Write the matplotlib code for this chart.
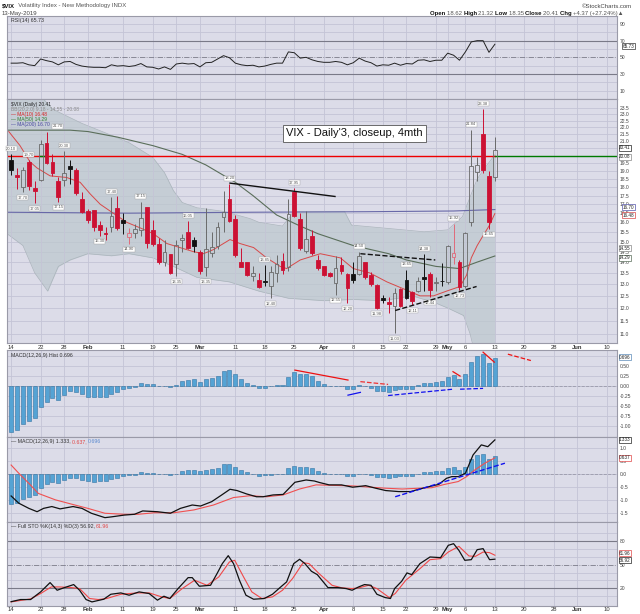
import numpy as np
import matplotlib
matplotlib.use("Agg")
import matplotlib.pyplot as plt
from matplotlib.patches import Rectangle
from matplotlib.ticker import FixedLocator, NullLocator, FixedFormatter

plt.rcParams['font.family'] = ['Liberation Sans', 'DejaVu Sans']

# ---- data: daily VIX, 14 Jan .. 13 May 2019 (83 sessions) ----
prev_close = 18.19
opens = [19.75, 18.75, 18.00, 19.60, 17.95, 18.45, 20.90, 19.60, 18.40, 18.45,
         19.35, 19.10, 17.30, 16.60, 16.70, 15.85, 15.45, 15.75, 16.80, 16.10,
         15.25, 15.45, 15.60, 16.85, 15.60, 14.90, 14.00, 14.40, 13.90, 15.10,
         15.50, 15.10, 14.50, 13.75, 14.45, 14.80, 16.30, 17.30, 16.20, 14.00,
         14.00, 13.35, 13.20, 13.15, 12.90, 13.50, 14.05, 13.75, 17.70, 16.20,
         14.55, 15.30, 14.10, 13.80, 13.50, 13.05, 13.85, 13.45, 13.45, 13.45,
         14.00, 13.40, 12.95, 12.40, 12.25, 12.10, 12.80, 13.20, 12.65, 12.70,
         13.30, 13.45, 13.05, 13.15, 13.10, 14.25, 14.00, 12.90, 16.00, 18.95,
         21.50, 18.70, 18.62]
highs = [20.10, 19.20, 19.25, 19.70, 18.40, 21.10, 21.70, 20.10, 18.60, 20.30,
         19.70, 19.20, 17.70, 16.75, 16.70, 16.05, 15.75, 17.40, 17.50, 16.50,
         15.70, 15.90, 17.15, 16.85, 16.10, 15.20, 15.10, 14.40, 15.10, 15.40,
         16.05, 15.25, 14.60, 16.80, 15.50, 16.00, 17.80, 18.20, 16.40, 14.70,
         14.00, 13.80, 13.50, 13.85, 13.80, 14.35, 14.45, 17.30, 17.95, 16.50,
         16.60, 15.60, 14.35, 13.80, 13.55, 14.30, 14.25, 13.50, 14.00, 14.50,
         14.00, 13.55, 13.00, 12.55, 12.45, 12.85, 12.85, 13.65, 12.70, 13.30,
         14.38, 13.55, 13.30, 13.95, 14.85, 15.92, 14.10, 15.50, 21.84, 19.90,
         23.38, 19.00, 21.32]
lows = [18.75, 17.90, 17.70, 17.85, 17.05, 18.40, 19.45, 18.70, 17.15, 18.10,
        18.20, 17.55, 16.50, 15.95, 15.55, 15.30, 15.10, 15.50, 15.60, 15.40,
        14.90, 15.20, 15.30, 14.70, 14.80, 13.90, 13.80, 13.45, 13.35, 14.50,
        14.65, 14.50, 13.45, 13.35, 14.25, 14.65, 15.50, 16.00, 14.25, 13.75,
        13.35, 13.15, 12.85, 12.90, 12.40, 13.10, 13.45, 13.60, 16.30, 14.60,
        14.45, 14.35, 13.65, 13.35, 13.30, 12.55, 13.45, 12.20, 13.05, 13.40,
        13.25, 12.90, 11.98, 12.20, 11.80, 11.03, 12.05, 12.35, 12.11, 12.65,
        12.70, 12.44, 12.70, 12.90, 13.00, 13.90, 12.73, 12.85, 15.80, 18.40,
        18.90, 15.65, 18.35]
closes = [19.07, 18.60, 19.04, 18.06, 17.80, 20.80, 19.52, 18.89, 17.42, 18.87,
          19.13, 17.66, 16.57, 16.14, 15.73, 15.57, 15.38, 16.37, 15.72, 15.97,
          15.43, 15.65, 16.22, 14.91, 14.88, 14.02, 14.46, 13.51, 14.85, 15.17,
          14.70, 14.78, 13.57, 14.63, 14.74, 15.74, 16.59, 16.05, 14.33, 13.77,
          13.41, 13.50, 12.88, 13.10, 13.56, 13.91, 13.63, 16.48, 16.33, 14.68,
          15.15, 14.43, 13.71, 13.40, 13.36, 13.74, 13.58, 12.82, 13.18, 14.28,
          13.30, 13.02, 12.01, 12.32, 12.18, 12.60, 12.09, 12.42, 12.28, 13.14,
          13.25, 12.73, 13.11, 13.12, 14.80, 14.42, 12.87, 15.44, 19.32, 19.40,
          19.10, 16.04, 20.41]

hi_label_idx = [0, 3, 6, 9, 17, 22, 30, 37, 43, 48, 59, 67, 70, 75, 78, 80]
lo_label_idx = [2, 4, 8, 15, 20, 28, 33, 44, 55, 57, 62, 65, 68, 71, 76, 81]

ma10_pts = [(-0.4, 21.7), (1.5, 20.7), (3.2, 19.6), (4.4, 19.2), (6.6, 18.7), (9.4, 18.6),
            (11.7, 18.3), (13.4, 17.6), (15.1, 17.0), (17.3, 16.5), (19.6, 16.0), (21.9, 15.7),
            (24.1, 15.4), (26.4, 14.9), (28.6, 14.7), (30.9, 14.5), (32.6, 14.4), (34.3, 14.6),
            (37.1, 15.1), (38.8, 14.9), (41.1, 14.7), (43.3, 14.2), (45.6, 13.8), (46.7, 13.7),
            (49, 14.1), (52.4, 14.4), (55.8, 14.2), (58, 13.7), (60.8, 13.5), (63.7, 13.1),
            (66.5, 12.8), (69.3, 12.5), (71.6, 12.5), (73.8, 12.7), (76.1, 12.9), (77.2, 13.4),
            (78, 14.2), (79, 14.8), (80, 15.3), (81, 15.8), (82, 16.48)]
ma50_pts = [(-0.7, 21.8), (10, 21.8), (13, 21.7), (18, 21.3), (24, 20.7), (29, 20.1),
            (33, 19.4), (38, 18.3), (41, 17.5), (45, 16.4), (49, 15.8), (52, 15.4),
            (58, 14.8), (64, 14.4), (67, 14.1), (72, 13.8), (76, 13.7), (79, 14.0), (82, 14.29)]
ma200_pts = [(-0.7, 16.55), (20, 16.5), (40, 16.55), (60, 16.58), (75, 16.62), (82, 16.70)]
bb_up_pts = [(-0.7, 27.0), (4, 25.0), (7, 23.4), (12, 22.3), (16, 21.6), (20, 20.9),
             (24, 19.9), (26, 18.9), (27.5, 17.8), (29, 17.1), (31.5, 16.8), (36, 16.6),
             (40.5, 16.2), (42, 16.0), (46, 15.8), (48, 16.6), (56.5, 16.6), (57.7, 15.85),
             (63, 15.7), (70, 15.5), (74, 15.6), (76.5, 16.3), (78, 17.6), (79, 18.5),
             (80.5, 19.3), (82, 20.08)]
bb_lo_pts = [(-0.7, 15.4), (2, 14.8), (4, 13.5), (6.2, 12.7), (8, 13.8), (10, 14.1),
             (13, 14.4), (17, 14.3), (20, 14.4), (24, 14.2), (27.5, 13.8), (31.5, 13.3),
             (37, 13.1), (42, 12.7), (47, 12.4), (53, 12.3), (58, 12.35), (63, 12.3),
             (68, 12.5), (72, 12.2), (74, 12.0), (76.7, 11.7), (77.8, 11.0), (79, 10.0),
             (82, 9.18)]

rsi = [43, 43, 43.5, 41, 40, 48, 46, 44.5, 41, 44.5, 45, 41.5, 39.5, 38.5, 38, 38, 37.5,
       41, 39.5, 40, 39, 40, 42.5, 38.5, 38, 36, 38.5, 35.5, 42, 43, 42, 42.5, 38.5, 43.5,
       44, 48, 52, 49.5, 43, 41, 40, 40.5, 38.5, 39.5, 41.5, 43, 43, 56.5, 55.5, 49, 50,
       47, 45, 44, 44, 45, 44, 41, 43.5, 49, 45.5, 43.5, 39.5, 41, 40.5, 43, 40.5, 42.5,
       42, 46.5, 47, 45, 46.5, 46.5, 55, 52.5, 46.5, 56.5, 68.5, 70, 70, 56, 65.73]

hist = [-1.16, -1.10, -0.95, -0.88, -0.80, -0.52, -0.39, -0.31, -0.34, -0.23, -0.13, -0.14,
        -0.21, -0.27, -0.28, -0.27, -0.27, -0.19, -0.14, -0.08, -0.04, -0.02, 0.08, 0.05,
        0.04, 0.01, 0.01, -0.03, 0.025, 0.12, 0.16, 0.18, 0.11, 0.17, 0.19, 0.26, 0.38,
        0.39, 0.29, 0.18, 0.08, 0.02, -0.06, -0.04, -0.01, 0.025, 0.025, 0.23, 0.34, 0.29,
        0.29, 0.26, 0.13, 0.04, 0.0, 0.0, 0.005, -0.08, -0.08, 0.015, 0.0, -0.04, -0.12,
        -0.12, -0.14, -0.10, -0.08, -0.08, -0.08, 0.02, 0.075, 0.075, 0.11, 0.13, 0.23,
        0.28, 0.18, 0.29, 0.60, 0.745, 0.80, 0.58, 0.696]

macd_pts = [(0, -0.84), (1.3, -1.12), (3, -1.32), (4.4, -1.45), (5.5, -1.32), (6.9, -1.25),
            (8.3, -1.34), (10.5, -1.25), (12, -1.32), (13.6, -1.51), (15.9, -1.68), (17, -1.65),
            (19.2, -1.58), (20.9, -1.55), (22.3, -1.42), (24.8, -1.45), (27, -1.51), (28.7, -1.32),
            (30.7, -1.19), (32.1, -1.23), (34, -1.06), (35.7, -0.80), (37.1, -0.58), (38.3, -0.63),
            (39.9, -0.76), (41.6, -0.87), (42.7, -0.87), (44.4, -0.80), (46.1, -0.78), (48.1, -0.31),
            (50, -0.22), (51.4, -0.26), (52.3, -0.32), (53.9, -0.41), (56, -0.41), (57.9, -0.50),
            (60.1, -0.44), (61.8, -0.54), (63.5, -0.63), (65.7, -0.67), (67.7, -0.67), (69.1, -0.58),
            (70.8, -0.48), (72.5, -0.39), (73.8, -0.155), (74.7, -0.09), (75.8, -0.09), (77, 0.04),
            (78.3, 0.75), (79.7, 1.14), (80.8, 1.07), (82, 1.333)]
signal_pts = [(0, 0.36), (1.3, 0.04), (3, -0.35), (4.6, -0.74), (7.5, -0.99), (10.3, -1.16),
              (13, -1.32), (15.9, -1.51), (19.2, -1.55), (21.5, -1.55), (24.3, -1.49), (27.6, -1.49),
              (31, -1.38), (34.3, -1.19), (37.7, -0.90), (40.5, -0.83), (43.3, -0.87), (46.1, -0.80),
              (48.9, -0.57), (51.7, -0.41), (57.9, -0.45), (63.5, -0.54), (66.3, -0.57), (69.1, -0.54),
              (71.3, -0.52), (73.5, -0.39), (75.8, -0.28), (77.2, -0.09), (78.6, 0.17), (80.3, 0.43),
              (82, 0.637)]

stok_pts = [(0, 3), (1.6, 5.7), (3.3, 5.7), (5, 15.4), (6.6, 27.2), (7.8, 17.5), (8.9, 20.5),
            (10.6, 24.7), (11.6, 17.5), (12.7, 5.7), (13.7, 2.7), (15.7, 6.1), (16.9, 12.4),
            (18.6, 14.1), (20, 11.2), (21.7, 15.4), (23.4, 13.3), (24.8, 4.9), (25.9, 9.9),
            (26.9, 7.0), (28.3, 19.6), (30, 33.5), (30.7, 33.5), (31.9, 22.6), (33.8, 23.8),
            (34.9, 38.6), (35.8, 51.3), (36.8, 61.4), (37.7, 51.3), (38.7, 30.2), (39.8, 11.2),
            (41.1, 6.1), (42.9, 7.0), (44.3, 12.4), (45.7, 21.7), (46.7, 28.1), (47.9, 51.3),
            (48.9, 56.8), (49.8, 51.3), (50.9, 41.6), (51.9, 37.3), (53.7, 20.9), (55.4, 20.9),
            (56.8, 19.6), (57.8, 17.5), (58.9, 21.7), (59.9, 24.7), (61, 23.8), (62, 12.4),
            (63.4, 8.2), (64.3, 7.0), (65, 19.6), (66.2, 28.9), (67.1, 39.5), (67.9, 37.3),
            (69.3, 51.3), (71, 59.7), (72.8, 58.9), (74.1, 74.5), (75, 76.6), (75.9, 68.1),
            (76.9, 55.5), (78, 56.3), (79, 69.0), (80, 70.3), (81.1, 56.3), (82, 56.92)]
stod_pts = [(0, 2.7), (3.3, 6.5), (5, 13.3), (6.8, 21.7), (8.2, 21.7), (10.2, 20.9), (11.6, 19.6),
            (13.3, 7.0), (14.8, 5.7), (16.2, 7.0), (18.6, 12.4), (21.3, 14.1), (23.4, 14.1),
            (25.5, 9.1), (26.9, 7.0), (29, 19.6), (31.1, 30.2), (33.2, 23.8), (35.2, 34.4),
            (37, 53.4), (37.9, 55.5), (39.4, 34.4), (40.8, 15.4), (42.5, 7.0), (44.3, 9.1),
            (46, 17.5), (47.7, 32.3), (49.5, 52.5), (50.5, 51.3), (52.2, 38.6), (54.4, 23.8),
            (56.1, 20.5), (57.8, 19.6), (58.9, 20.5), (60.6, 23.8), (62, 19.6), (64.1, 8.2),
            (65.1, 13.3), (66.9, 30.2), (69.3, 44.9), (71, 56.3), (72.8, 57.6), (74.1, 66.0),
            (75.9, 73.2), (77.6, 61.0), (78.7, 60.5), (80, 66.0), (81.1, 65.2), (82, 61.96)]

# hand-drawn trend lines: (start, end, style, colour)
main_lines = [((37.1, 18.25), (54.9, 17.45), '-', '#111111'),
              ((59.2, 14.4), (71.9, 14.1), '--', '#111111'),
              ((65.1, 11.9), (78.9, 12.9), '--', '#111111')]
hist_lines = [((48.1, 0.40), (57.1, 0.15), '-', '#ee1111'),
              ((59.2, 0.11), (63.9, 0.04), '--', '#ee3333'),
              ((74.9, 0.36), (76.1, 0.25), '-', '#ee1111'),
              ((80.0, 0.85), (81.9, 0.60), '-', '#ee1111'),
              ((84.2, 0.80), (88.1, 0.64), '--', '#ee1111'),
              ((57.1, -0.23), (59.2, -0.16), '-', '#1111ee'),
              ((63.9, -0.24), (74.9, -0.08), '--', '#1111ee'),
              ((76.1, -0.08), (80.0, -0.06), '--', '#1111ee')]
macd_lines = [((65.1, -0.87), (83.7, 0.43), '--', '#1111ee')]

date_idx = [0, 5, 9, 13, 19, 24, 28, 32, 38, 43, 48, 53, 58, 63, 67, 72, 74, 77, 82, 87, 92, 96, 101]
date_lbl = ['14', '22', '28', 'Feb', '11', '19', '25', 'Mar', '11', '18', '25', 'Apr',
            '8', '15', '22', '29', 'May', '6', '13', '20', '28', 'Jun', '10']

# ---- styling ----
bg = '#dcdce8'
grid_c = '#c4c4d6'
red_c = '#cc1133'
W, H = 640, 614
XL = (-0.7, 102.7)

fig = plt.figure(figsize=(6.4, 6.14), dpi=100)
fig.patch.set_facecolor('white')


def panel(top, bottom):
    ax = fig.add_axes([7 / W, 1 - bottom / H, 610 / W, (bottom - top) / H])
    ax.set_facecolor(bg)
    ax.set_xlim(*XL)
    ax.yaxis.tick_right()
    ax.tick_params(axis='y', length=0, labelsize=3.6, pad=2, colors='#444')
    ax.tick_params(axis='x', length=0, labelsize=4.2, pad=1, colors='#333')
    ax.xaxis.set_major_locator(FixedLocator(date_idx))
    ax.xaxis.set_major_formatter(FixedFormatter([''] * len(date_idx)))
    ax.grid(True, axis='x', color=grid_c, lw=0.6, zorder=0)
    for s in ax.spines.values():
        s.set_color('#9a9aa8')
        s.set_linewidth(0.8)
    return ax


def date_labels(ax):
    ax.xaxis.set_major_formatter(FixedFormatter(date_lbl))
    for t, s in zip(ax.get_xticklabels(), date_lbl):
        if not s.isdigit():
            t.set_fontweight('bold')


def hgrid(ax, vals):
    for v in vals:
        ax.axhline(v, color=grid_c, lw=0.6, zorder=0)


def vbox(ax, val, txt, ec, dx=1.5):
    ax.annotate(txt, xy=(1, val), xycoords=('axes fraction', 'data'), xytext=(dx, 0),
                textcoords='offset points', fontsize=3.3, va='center', ha='left', color='#222',
                bbox=dict(boxstyle='square,pad=0.12', fc='white', ec=ec, lw=0.5),
                annotation_clip=False, zorder=10)


def chain(x, y, parts, transform, width_px, **kw):
    r = fig.canvas.get_renderer()
    for s, col, wt in parts:
        t = fig.text(x, y, s, color=col, fontweight=wt, transform=transform, **kw)
        x += t.get_window_extent(renderer=r).width / width_px


def pts_line(ax, pts, **kw):
    xs, ys = zip(*pts)
    ax.plot(xs, ys, **kw)


# ---- RSI panel ----
ax_r = panel(16, 99.3)
ax_r.set_ylim(-0.4, 99.6)
hgrid(ax_r, [10, 20, 40, 60, 80, 90])
ax_r.axhline(70, color='#7a7a88', lw=0.8)
ax_r.axhline(30, color='#7a7a88', lw=0.8)
ax_r.axhline(50, color='#7a7a88', lw=0.6, ls='-.')
ax_r.yaxis.set_major_locator(FixedLocator([10, 30, 50, 70, 90]))
ax_r.plot(np.arange(len(rsi)), rsi, color='#222', lw=0.7)
ax_r.text(0.006, 0.97, 'RSI(14) 65.73', transform=ax_r.transAxes, fontsize=3.8, va='top', color='#333')
vbox(ax_r, 63.5, '65.73', '#333', dx=4)

# ---- price panel ----
ax = panel(99.3, 343.3)
ax.set_yscale('log')
ax.set_ylim(10.66, 24.18)
ticks = np.arange(11.0, 23.51, 0.5)
ax.yaxis.set_major_locator(FixedLocator(ticks))
ax.yaxis.set_major_formatter(FixedFormatter([f'{t:.1f}' for t in ticks]))
ax.yaxis.set_minor_locator(NullLocator())
hgrid(ax, ticks)
date_labels(ax)

bx, bu = zip(*bb_up_pts)
lx, lo_ = zip(*bb_lo_pts)
xx = np.linspace(-0.7, 82, 300)
bu_i = np.interp(xx, bx, bu)
lo_i = np.interp(xx, lx, lo_)
ax.fill_between(xx, lo_i, bu_i, color='#bcc7cd', alpha=0.7, lw=0, zorder=1)
ax.plot(bx, bu, color='#aab4bb', lw=0.5, zorder=1)
ax.plot(lx, lo_, color='#aab4bb', lw=0.5, zorder=1)

pts_line(ax, ma200_pts, color='#6868a8', lw=0.8, zorder=2)
pts_line(ax, ma50_pts, color='#5a6e5a', lw=0.8, zorder=2)
pts_line(ax, ma10_pts, color='#d84848', lw=0.7, zorder=2)

# horizontal level at 20
ax.plot([XL[0], 82], [20.0, 20.0], color='#ee0000', lw=1.0, zorder=2)
ax.plot([82, XL[1]], [20.0, 20.0], color='#007a00', lw=1.0, zorder=2)
ax.plot([4.9, 6.1], [20.0, 20.0], color='#007a00', lw=1.0, zorder=2)

pc = [prev_close] + closes[:-1]
for i in range(len(closes)):
    o, h, l, c = opens[i], highs[i], lows[i], closes[i]
    is_red = c < pc[i]
    filled = c < o
    if is_red:
        col = red_c if filled else '#e06a7a'
    else:
        col = '#111111' if filled else '#6a6a6a'
    b0, b1 = min(o, c), max(o, c)
    ax.vlines(i, b1, h, color=col, lw=0.7, zorder=3)
    ax.vlines(i, l, b0, color=col, lw=0.7, zorder=3)
    ax.add_patch(Rectangle((i - 0.32, b0), 0.64, b1 - b0, facecolor=col if filled else 'none',
                           edgecolor=col, lw=0.6, zorder=4))

lbl_box = dict(boxstyle='square,pad=0.12', fc='white', ec='#a0a0a0', lw=0.3)
for i in hi_label_idx:
    dx = 8 if i == 6 else 0   # nudged clear of the legend block
    ax.annotate(f'{highs[i]:.2f}', xy=(i, highs[i]), xytext=(dx, 2.5), textcoords='offset points',
                ha='center', va='bottom', fontsize=3.0, color='#555', bbox=lbl_box, zorder=5)
for i in lo_label_idx:
    ax.annotate(f'{lows[i]:.2f}', xy=(i, lows[i]), xytext=(0, -2.5), textcoords='offset points',
                ha='center', va='top', fontsize=3.0, color='#555', bbox=lbl_box, zorder=5)

for (x0, y0), (x1, y1), ls, col in main_lines:
    ax.plot([x0, x1], [y0, y1], ls=ls, color=col, lw=1.0, zorder=5)

ax.text(0.57, 0.86, "VIX - Daily'3, closeup, 4mth", transform=ax.transAxes, fontsize=8,
        ha='center', va='center', color='#111', zorder=6,
        bbox=dict(boxstyle='square,pad=0.3', fc='white', ec='#555', lw=0.6))

leg = [('$VIX (Daily) 20.41', '#222'), ('BB(20,2.0) 9.18 - 14.55 - 20.08', '#8a8a8a'),
       ('\u2014 MA(10) 16.48', '#d82020'), ('\u2014 MA(50) 14.29', '#2e7a2e'),
       ('\u2014 MA(200) 16.70', '#4848a0')]
for k, (s, col) in enumerate(leg):
    ax.text(0.006, 0.99 - k * 0.021, s, transform=ax.transAxes, fontsize=3.5, va='top',
            color=col, zorder=6)

vbox(ax, 20.55, '20.41', '#222')
vbox(ax, 19.95, '20.08', '#888')
vbox(ax, 16.82, '16.70', '#5555aa', dx=4)
vbox(ax, 16.38, '16.48', '#d84848', dx=4)
vbox(ax, 14.66, '14.55', '#888')
vbox(ax, 14.20, '14.29', '#5a6e5a')

# ---- MACD histogram panel ----
ax_h = panel(350, 436.7)
ax_h.set_ylim(-1.274, 0.905)
hticks = [-1.0, -0.75, -0.5, -0.25, 0.0, 0.25, 0.5]
ax_h.yaxis.set_major_locator(FixedLocator(hticks))
ax_h.yaxis.set_major_formatter(FixedFormatter([f'{t:.2f}' for t in hticks]))
hgrid(ax_h, hticks + [0.75])
ax_h.axhline(0, color='#9a9aaa', lw=0.6, ls='--', zorder=1)
ax_h.bar(np.arange(len(hist)), hist, width=0.68, color='#55a3d4', edgecolor='#3474a4', lw=0.4, zorder=2)
for (x0, y0), (x1, y1), ls, col in hist_lines:
    ax_h.plot([x0, x1], [y0, y1], ls=ls, color=col, lw=0.9, zorder=4)
ax_h.text(0.006, 0.97, 'MACD(12,26,9) Hist 0.696', transform=ax_h.transAxes, fontsize=3.8,
          va='top', color='#333')
vbox(ax_h, 0.72, '0.696', '#5a8ab8')

# ---- MACD panel ----
ax_m = panel(436.7, 521.7)
ax_m.set_ylim(-1.837, 1.457)
mticks = [-1.5, -1.0, -0.5, 0.0, 0.5, 1.0]
ax_m.yaxis.set_major_locator(FixedLocator(mticks))
ax_m.yaxis.set_major_formatter(FixedFormatter([f'{t:.1f}' for t in mticks]))
hgrid(ax_m, mticks)
ax_m.axhline(0, color='#9a9aaa', lw=0.6, ls='--', zorder=1)
ax_m.bar(np.arange(len(hist)), hist, width=0.68, color='#55a3d4', edgecolor='#3474a4', lw=0.4, zorder=2)
pts_line(ax_m, signal_pts, color='#f05050', lw=0.8, zorder=3)
pts_line(ax_m, macd_pts, color='#111', lw=0.9, zorder=3)
for (x0, y0), (x1, y1), ls, col in macd_lines:
    ax_m.plot([x0, x1], [y0, y1], ls=ls, color=col, lw=1.0, zorder=4)
chain(0.006, 0.97, [('\u2014 MACD(12,26,9) 1.333, ', '#333', 'normal'), ('0.637, ', '#e04848', 'normal'),
                    ('0.696', '#5a8ad0', 'normal')], ax_m.transAxes, ax_m.bbox.width,
      fontsize=3.8, va='top')
vbox(ax_m, 1.333, '1.333', '#222')
vbox(ax_m, 0.637, '0.637', '#e04848')

# ---- slow stochastics panel ----
ax_s = panel(521.7, 606)
ax_s.set_ylim(-2.5, 104.5)
ax_s.yaxis.set_major_locator(FixedLocator([20, 50, 80]))
hgrid(ax_s, [10, 30, 40, 60, 70, 90])
ax_s.axhline(80, color='#7a7a88', lw=0.8)
ax_s.axhline(20, color='#7a7a88', lw=0.8)
ax_s.axhline(50, color='#7a7a88', lw=0.6, ls='-.')
pts_line(ax_s, stod_pts, color='#f04848', lw=0.8, zorder=3)
pts_line(ax_s, stok_pts, color='#111', lw=0.9, zorder=3)
date_labels(ax_s)
chain(0.006, 0.97, [('\u2014 Full STO %K(14,3) %D(3) 56.92, ', '#333', 'normal'),
                    ('61.96', '#e04848', 'normal')], ax_s.transAxes, ax_s.bbox.width,
      fontsize=3.8, va='top')
vbox(ax_s, 64.5, '61.96', '#e04848')
vbox(ax_s, 55.5, '56.92', '#222')

# ---- header ----
chain(2 / W, 1 - 6 / H, [('$VIX', '#111', 'bold'),
                         ('  Volatility Index - New Methodology INDX', '#555', 'normal')],
      fig.transFigure, fig.bbox.width, fontsize=4.3, va='center')
fig.text(632 / W, 1 - 6 / H, '\u00a9StockCharts.com', fontsize=4.3, ha='right', va='center', color='#444')
fig.text(2 / W, 1 - 13.5 / H, '13-May-2019', fontsize=4.3, va='center', color='#444')
chain(430 / W, 1 - 13.5 / H,
      [('Open ', '#111', 'bold'), ('18.62 ', '#555', 'normal'), ('High ', '#111', 'bold'),
       ('21.32 ', '#555', 'normal'), ('Low ', '#111', 'bold'), ('18.35 ', '#555', 'normal'),
       ('Close ', '#111', 'bold'), ('20.41 ', '#555', 'normal'), ('Chg ', '#111', 'bold'),
       ('+4.37 (+27.24%)\u25b2', '#555', 'normal')],
      fig.transFigure, fig.bbox.width, fontsize=4.3, va='center')

fig.savefig('out.png', dpi=100, facecolor='white')
